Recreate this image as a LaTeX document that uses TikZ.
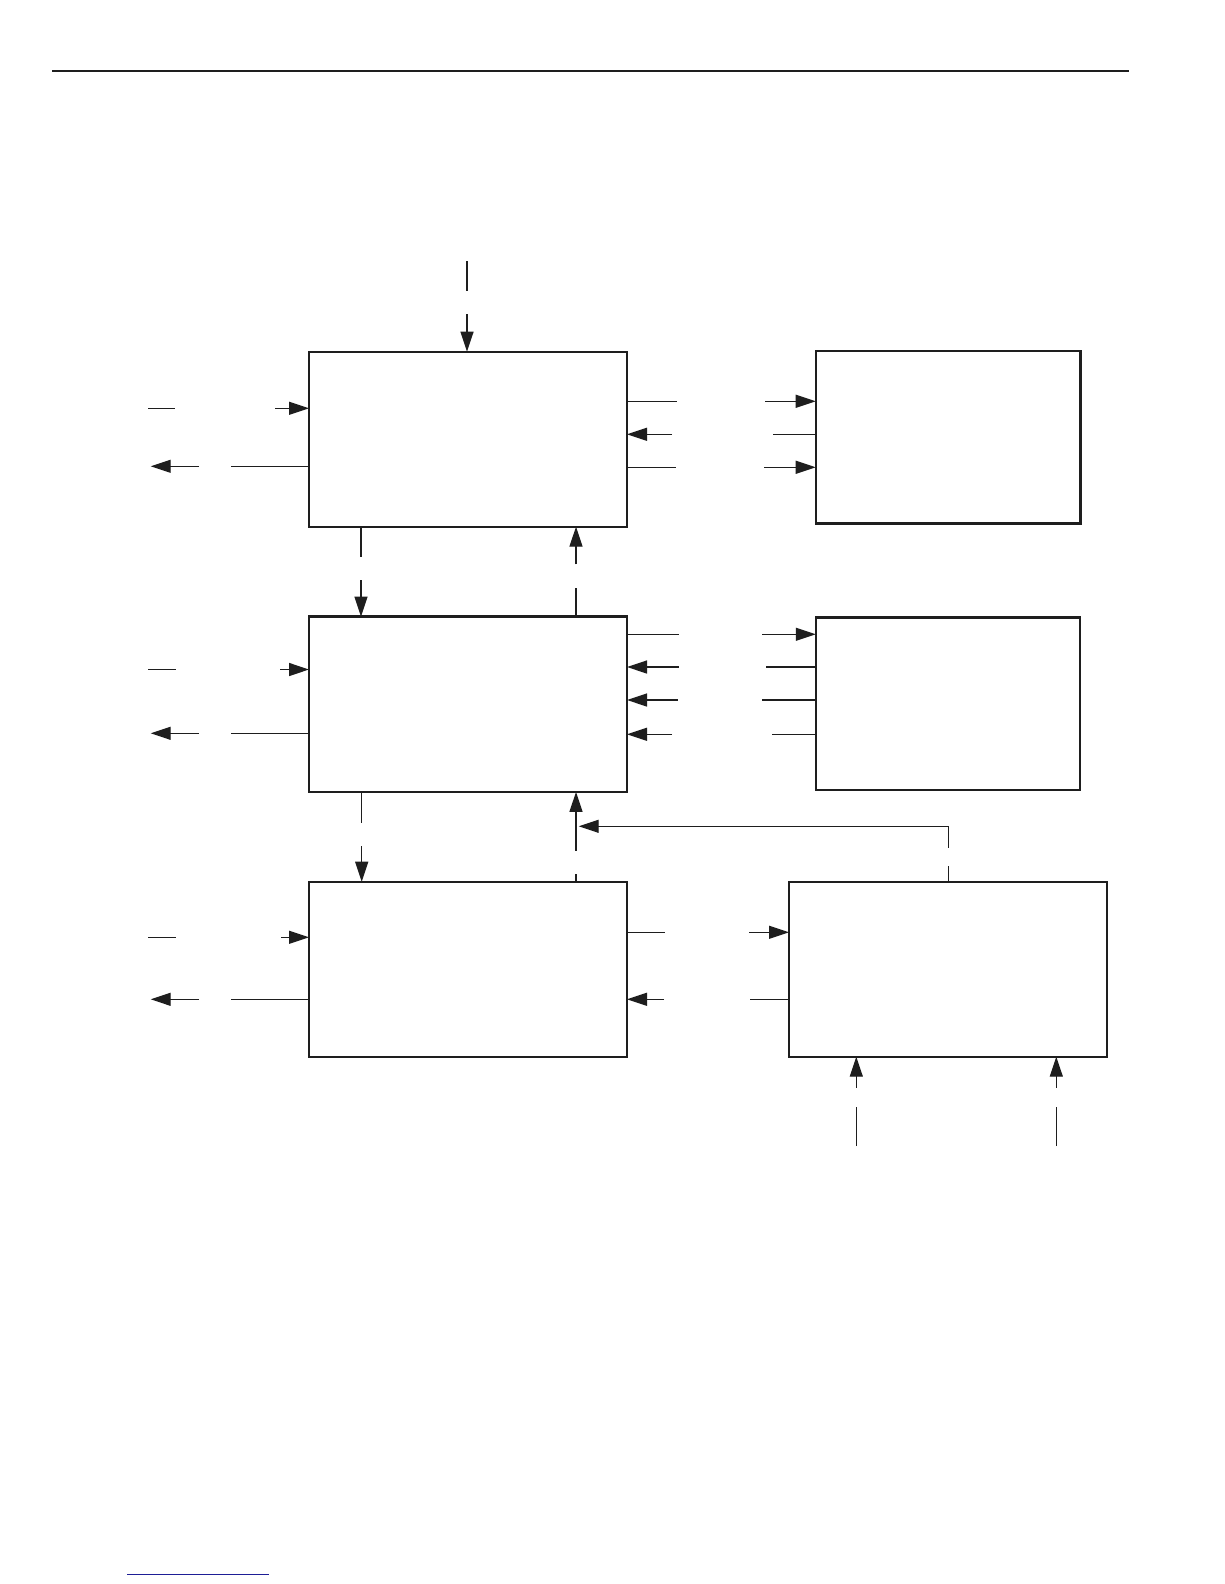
\documentclass[tikz,border=0pt]{standalone}
\usetikzlibrary{arrows.meta}
\definecolor{ink}{RGB}{30,30,30}
\definecolor{rule}{RGB}{30,30,150}
\begin{document}
\begin{tikzpicture}[x=1pt,y=-1pt,
  box/.style={draw=ink,line width=2.4pt,rectangle,outer sep=0pt,inner sep=0pt},
  conn/.style={draw=ink,line width=1.3pt},
  arr/.style={conn,-{Triangle[length=20pt,width=13pt]}}]
\useasboundingbox (0,0) rectangle (1224,1584);
\fill[white] (0,0) rectangle (1224,1584);
% rules
\coordinate (r1) at (52.3,71); \coordinate (r2) at (1128.7,71);
\draw[ink,line width=1.5pt] (r1) -- (r2);
\coordinate (q1) at (127.3,1574.7); \coordinate (q2) at (269,1574.7);
\draw[rule,line width=1.5pt] (q1) -- (q2);
% boxes
\node[box,minimum width=318pt,minimum height=175pt] (b1) at (468,439.2) {};
\node[box,minimum width=318pt,minimum height=175.3pt] (b2) at (468,704.3) {};
\node[box,minimum width=318pt,minimum height=175pt] (b3) at (468,969.2) {};
\node[box,minimum width=264.6pt,minimum height=172.7pt] (bA) at (948,437.3) {};
\node[box,minimum width=264.3pt,minimum height=172.7pt] (bB) at (947.9,703.7) {};
\node[box,minimum width=318pt,minimum height=175pt] (bC) at (948,969.2) {};
% top input
\coordinate (t1) at (467,261); \coordinate (t2) at (467,291); \coordinate (t3) at (467,314);
\draw[conn] (t1) -- (t2);
\draw[arr] (t3) -- (t3 |- b1.north);
% left side box1
\coordinate (l1a) at (148,408.3); \coordinate (l1b) at (175,408.3); \coordinate (l1c) at (275,408.3);
\draw[conn] (l1a) -- (l1b); \draw[arr] (l1c) -- (l1c -| b1.west);
\coordinate (l2a) at (150.7,466.3); \coordinate (l2b) at (199,466.3); \coordinate (l2c) at (231,466.3);
\draw[arr] (l2b) -- (l2a); \draw[conn] (l2c) -- (l2c -| b1.west);
% left side box2
\coordinate (l3a) at (148,669.5); \coordinate (l3b) at (175.7,669.5); \coordinate (l3c) at (280,669.5);
\draw[conn] (l3a) -- (l3b); \draw[arr] (l3c) -- (l3c -| b2.west);
\coordinate (l4a) at (150.7,733.3); \coordinate (l4b) at (199,733.3); \coordinate (l4c) at (231,733.3);
\draw[arr] (l4b) -- (l4a); \draw[conn] (l4c) -- (l4c -| b2.west);
% left side box3
\coordinate (l5a) at (148,937.3); \coordinate (l5b) at (175.7,937.3); \coordinate (l5c) at (281,937.3);
\draw[conn] (l5a) -- (l5b); \draw[arr] (l5c) -- (l5c -| b3.west);
\coordinate (l6a) at (150.7,999.3); \coordinate (l6b) at (199,999.3); \coordinate (l6c) at (231,999.3);
\draw[arr] (l6b) -- (l6a); \draw[conn] (l6c) -- (l6c -| b3.west);
% vertical b1-b2
\coordinate (v1a) at (361,556.7); \coordinate (v1b) at (361,580);
\draw[conn] (v1a |- b1.south) -- (v1a); \draw[arr] (v1b) -- (v1b |- b2.north);
\coordinate (v2a) at (576,588.3); \coordinate (v2b) at (576,564.3);
\draw[conn] (v2a |- b2.north) -- (v2a); \draw[arr] (v2b) -- (v2b |- b1.south);
% vertical b2-b3
\coordinate (v3a) at (361.7,822.7); \coordinate (v3b) at (361.7,846);
\draw[conn] (v3a |- b2.south) -- (v3a); \draw[arr] (v3b) -- (v3b |- b3.north);
\coordinate (v4a) at (576,874.3); \coordinate (v4b) at (576,850.7);
\draw[conn] (v4a |- b3.north) -- (v4a); \draw[arr] (v4b) -- (v4b |- b2.south);
% feedback from C
\coordinate (f1) at (948.3,866); \coordinate (f2) at (948.3,847.7);
\coordinate (f3) at (948.3,826.3); \coordinate (f4) at (578.7,826.3);
\draw[conn] (f1 |- bC.north) -- (f1);
\draw[arr] (f2) -- (f3) -- (f4);
% box1 - A
\coordinate (a1a) at (676.7,401.3); \coordinate (a1b) at (765,401.3);
\draw[conn] (a1a -| b1.east) -- (a1a); \draw[arr] (a1b) -- (a1b -| bA.west);
\coordinate (a2a) at (672,434.3); \coordinate (a2b) at (773,434.3);
\draw[arr] (a2a) -- (a2a -| b1.east); \draw[conn] (a2b -| bA.west) -- (a2b);
\coordinate (a3a) at (676,467.3); \coordinate (a3b) at (764,467.3);
\draw[conn] (a3a -| b1.east) -- (a3a); \draw[arr] (a3b) -- (a3b -| bA.west);
% box2 - B
\coordinate (c1a) at (678.7,634.3); \coordinate (c1b) at (762,634.3);
\draw[conn] (c1a -| b2.east) -- (c1a); \draw[arr] (c1b) -- (c1b -| bB.west);
\coordinate (c2a) at (678.7,667); \coordinate (c2b) at (766,667);
\draw[arr] (c2a) -- (c2a -| b2.east); \draw[conn] (c2b -| bB.west) -- (c2b);
\coordinate (c3a) at (677.7,700); \coordinate (c3b) at (761.7,700);
\draw[arr] (c3a) -- (c3a -| b2.east); \draw[conn] (c3b -| bB.west) -- (c3b);
\coordinate (c4a) at (672,734.3); \coordinate (c4b) at (772,734.3);
\draw[arr] (c4a) -- (c4a -| b2.east); \draw[conn] (c4b -| bB.west) -- (c4b);
% box3 - C
\coordinate (d1a) at (664.7,932.3); \coordinate (d1b) at (749,932.3);
\draw[conn] (d1a -| b3.east) -- (d1a); \draw[arr] (d1b) -- (d1b -| bC.west);
\coordinate (d2a) at (664,999.3); \coordinate (d2b) at (750,999.3);
\draw[arr] (d2a) -- (d2a -| b3.east); \draw[conn] (d2b -| bC.west) -- (d2b);
% bottom inputs to C
\coordinate (e1a) at (856.3,1146); \coordinate (e1b) at (856.3,1106.7); \coordinate (e1c) at (856.3,1087.7);
\draw[conn] (e1a) -- (e1b); \draw[arr] (e1c) -- (e1c |- bC.south);
\coordinate (e2a) at (1056.3,1146); \coordinate (e2b) at (1056.3,1106.7); \coordinate (e2c) at (1056.3,1087.7);
\draw[conn] (e2a) -- (e2b); \draw[arr] (e2c) -- (e2c |- bC.south);
\end{tikzpicture}
\end{document}
